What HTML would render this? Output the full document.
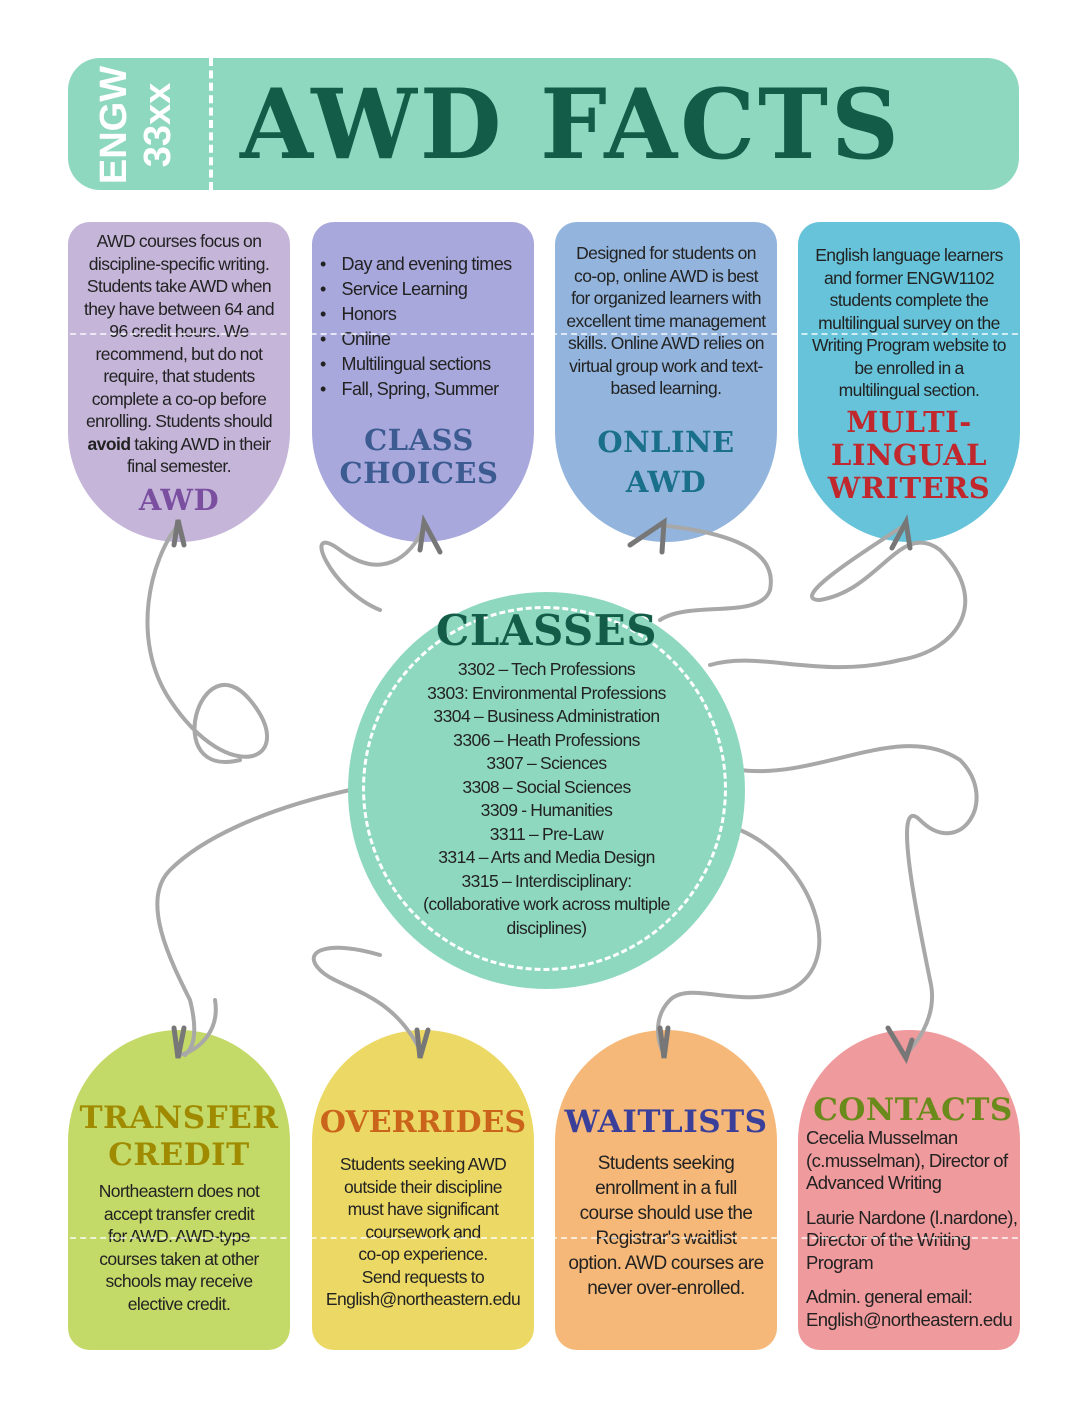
<!DOCTYPE html>
<html><head><style>
body{margin:0;width:1088px;height:1408px;background:#fff;position:relative;overflow:hidden;font-family:"Liberation Sans",sans-serif;}
.a{position:absolute;}
.hdr{left:68px;top:58px;width:951px;height:132px;background:#8fd8c0;border-radius:32px;}
.tag{position:absolute;width:222px;height:320px;text-align:center;color:#222;font-size:17.5px;line-height:22.5px;box-sizing:border-box;white-space:nowrap;letter-spacing:-0.55px;word-spacing:-0.5px}
.t{border-radius:22px 22px 111px 111px;top:222px;}
.b{border-radius:111px 111px 22px 22px;top:1030px;}
.ti{font-family:"DejaVu Serif","Liberation Serif",serif;font-weight:bold;font-size:29px;line-height:33px;letter-spacing:0.5px}
</style></head><body>
<div class="a hdr"></div>
<div class="a" style="left:209px;top:58px;height:132px;border-left:4px dashed #fff"></div>
<div class="a" style="left:80px;top:77px;width:120px;height:96px;transform:rotate(-90deg);color:#fff;font-weight:bold;font-size:38px;line-height:44px;text-align:center;">ENGW<br>33xx</div>
<div class="a" style="left:240px;top:70px;font-family:'DejaVu Serif','Liberation Serif',serif;font-weight:bold;font-size:96px;line-height:110px;color:#135c48;transform:scaleX(0.98);transform-origin:left;letter-spacing:3px;white-space:nowrap">AWD FACTS</div>

<div class="tag t" style="left:68px;background:#c4b5d9;padding:8px 0">AWD courses focus on<br>discipline-specific writing.<br>Students take AWD when<br>they have between 64 and<br>96 credit hours. We<br>recommend, but do not<br>require, that students<br>complete a co-op before<br>enrolling. Students should<br><b>avoid</b> taking AWD in their<br>final semester.<div class="ti" style="color:#7b4fa0;margin-top:6px;letter-spacing:0.5px">AWD</div></div>
<div class="tag t" style="left:312px;background:#a8a8dc;padding:30px 8px 0 8px;text-align:left;font-size:18px;line-height:25px">
<div>•&nbsp;&nbsp;&nbsp;&nbsp;Day and evening times</div><div>•&nbsp;&nbsp;&nbsp;&nbsp;Service Learning</div><div>•&nbsp;&nbsp;&nbsp;&nbsp;Honors</div><div>•&nbsp;&nbsp;&nbsp;&nbsp;Online</div><div>•&nbsp;&nbsp;&nbsp;&nbsp;Multilingual sections</div><div>•&nbsp;&nbsp;&nbsp;&nbsp;Fall, Spring, Summer</div>
<div class="ti" style="color:#3c5b91;text-align:center;margin-top:22px;margin-left:-8px;letter-spacing:0.5px">CLASS<br>CHOICES</div></div>
<div class="tag t" style="left:555px;background:#93b5dd;padding:20px 0 0">Designed for students on<br>co-op, online AWD is best<br>for organized learners with<br>excellent time management<br>skills. Online AWD relies on<br>virtual group work and text-<br>based learning.<div class="ti" style="color:#1a6f8a;margin-top:22px;line-height:40px;letter-spacing:0.5px">ONLINE<br>AWD</div></div>
<div class="tag t" style="left:798px;background:#66c3d9;padding:22px 0 0">English language learners<br>and former ENGW1102<br>students complete the<br>multilingual survey on the<br>Writing Program website to<br>be enrolled in a<br>multilingual section.<div class="ti" style="color:#c0282d;margin-top:4px;letter-spacing:0.5px">MULTI-<br>LINGUAL<br>WRITERS</div></div>

<div class="tag b" style="left:68px;background:#c3d968;padding:70px 0 0"><div class="ti" style="color:#a08a00;font-size:31px;line-height:37px;letter-spacing:0.5px">TRANSFER<br>CREDIT</div><div style="margin-top:6px">Northeastern does not<br>accept transfer credit<br>for AWD. AWD-type<br>courses taken at other<br>schools may receive<br>elective credit.</div></div>
<div class="tag b" style="left:312px;background:#ecd965;padding:76px 0 0"><div class="ti" style="color:#c9641a;font-size:30px;letter-spacing:0">OVERRIDES</div><div style="margin-top:14px">Students seeking AWD<br>outside their discipline<br>must have significant<br>coursework and<br>co-op experience.<br>Send requests to<br>English@northeastern.edu</div></div>
<div class="tag b" style="left:555px;background:#f5b878;padding:76px 0 0;font-size:19px;line-height:25px"><div class="ti" style="color:#3a3f99;font-size:31px;letter-spacing:0.5px">WAITLISTS</div><div style="margin-top:12px">Students seeking<br>enrollment in a full<br>course should use the<br>Registrar's waitlist<br>option. AWD courses are<br>never over-enrolled.</div></div>
<div class="tag b" style="left:798px;background:#ef9a9c;padding:64px 0 0 8px;text-align:left;font-size:18.5px"><div class="ti" style="color:#6b8a1c;font-size:31px;text-align:center;letter-spacing:0.5px">CONTACTS</div><div>Cecelia Musselman<br>(c.musselman), Director of<br>Advanced Writing</div><div style="margin-top:12px">Laurie Nardone (l.nardone),<br>Director of the Writing<br>Program</div><div style="margin-top:12px">Admin. general email:<br>English@northeastern.edu</div></div>

<div class="a" style="left:0;top:333px;width:1088px;border-top:2px dashed rgba(255,255,255,0.7)"></div>
<div class="a" style="left:0;top:1237px;width:1088px;border-top:2px dashed rgba(255,255,255,0.7)"></div>

<svg class="a" style="left:0;top:0" width="1088" height="1408" fill="none" stroke="#a8a8a8" stroke-width="4" stroke-linecap="round">
<path d="M178 525 C150 560 130 640 170 700 C230 790 300 760 250 700 C200 640 160 780 240 760"/>
<path d="M425 525 C410 560 380 580 340 550 C300 520 330 590 380 610"/>
<path d="M660 525 C700 530 780 540 770 590 C760 620 690 600 660 620"/>
<path d="M905 525 C850 560 790 600 820 600 C880 590 900 520 940 550 C990 600 960 650 900 660 C820 680 760 650 710 665"/>
<path d="M350 790 C260 810 200 840 170 870 C140 900 170 960 190 1000 C200 1040 190 1050 185 1055"/>
<path d="M420 1050 C390 990 340 990 320 970 C300 950 330 940 380 955"/>
<path d="M740 770 C820 780 900 720 960 760 C1000 800 960 860 920 820 C890 790 920 930 930 980 C940 1020 910 1050 905 1055"/>
<path d="M740 830 C810 860 850 960 790 990 C740 1010 690 980 670 1000 C650 1020 660 1050 665 1055"/>
<path d="M180 1055 C200 1050 220 1030 215 1000"/>
</svg>
<div class="a" style="left:348px;top:592px;width:397px;height:397px;border-radius:50%;background:#8fd8c0"></div>
<div class="a" style="left:362px;top:606px;width:365px;height:365px;border-radius:50%;border:3px dashed #fff;box-sizing:border-box"></div>
<div class="a" style="left:348px;top:606px;width:397px;text-align:center;font-size:17.5px;line-height:23.5px;color:#222;letter-spacing:-0.55px;word-spacing:-0.5px">
<div class="ti" style="color:#135c48;font-size:42px;line-height:50px;margin-bottom:2px;letter-spacing:0.5px">CLASSES</div>
3302 – Tech Professions<br>3303: Environmental Professions<br>3304 – Business Administration<br>3306 – Heath Professions<br>3307 – Sciences<br>3308 – Social Sciences<br>3309 - Humanities<br>3311 – Pre-Law<br>3314 – Arts and Media Design<br>3315 – Interdisciplinary:<br>(collaborative work across multiple<br>disciplines)</div>

<svg class="a" style="left:0;top:0" width="1088" height="1408" fill="none" stroke="#777" stroke-width="5" stroke-linecap="round">
<path d="M174 545 L178 520 L184 545"/><path d="M420 550 L424 522 L440 552"/><path d="M630 545 L664 522 L662 552"/><path d="M892 548 L906 522 L910 548"/>
<path d="M174 1028 L178 1058 L184 1028"/><path d="M417 1030 L420 1058 L428 1030"/><path d="M660 1028 L664 1058 L668 1028"/><path d="M888 1028 L906 1058 L912 1040"/>
</svg>
</body></html>
